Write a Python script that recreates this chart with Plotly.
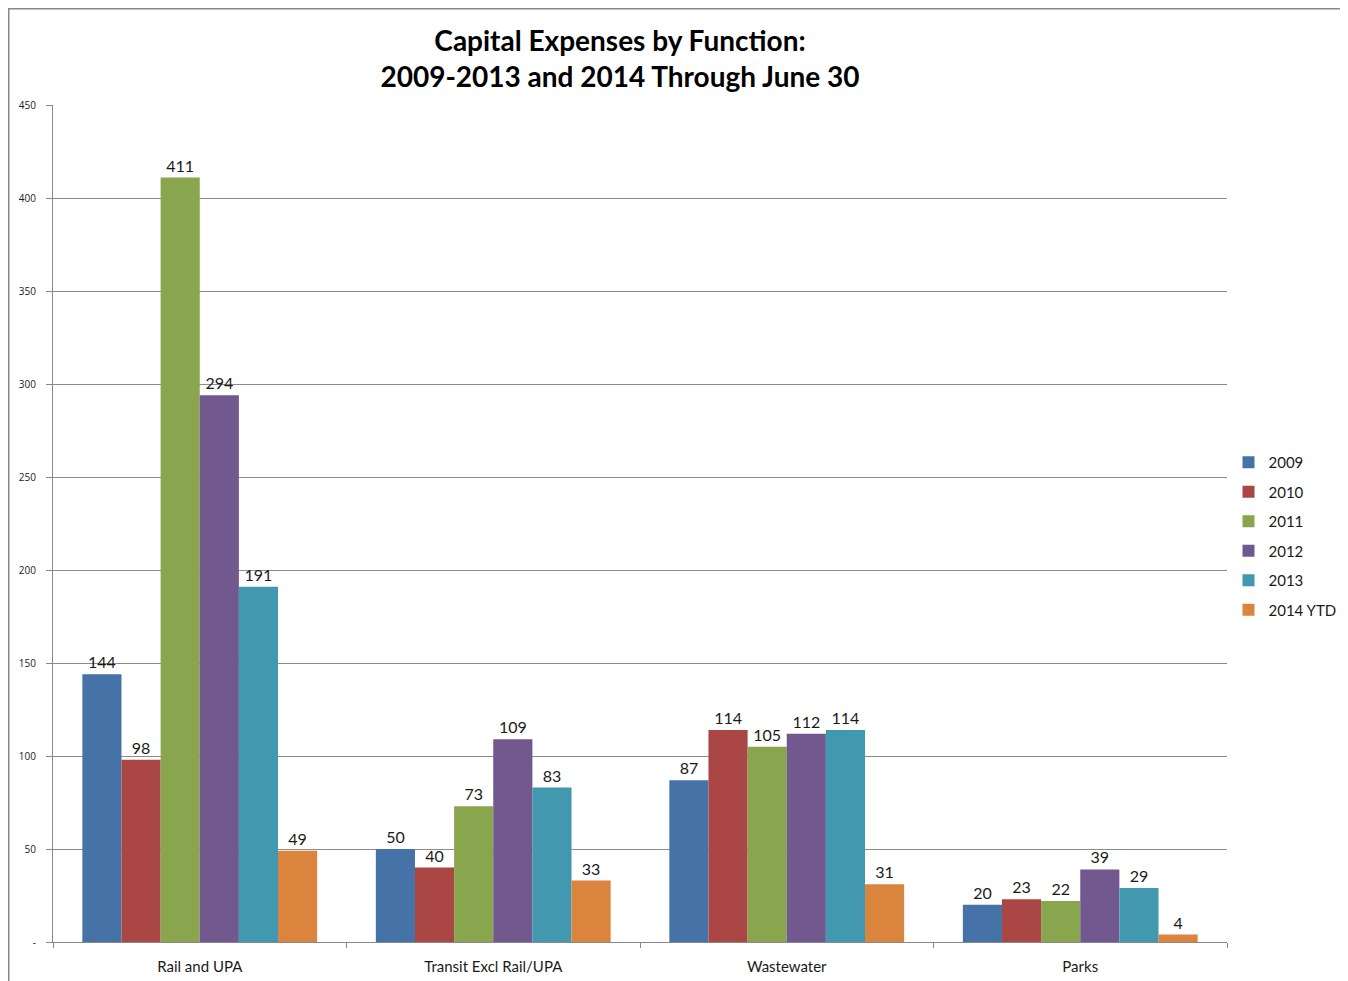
import plotly.graph_objects as go

categories = ["Rail and UPA", "Transit Excl Rail/UPA", "Wastewater", "Parks"]
series_names = ["2009", "2010", "2011", "2012", "2013", "2014 YTD"]
v2009 = [144, 50, 87, 20]
v2010 = [98, 40, 114, 23]
v2011 = [411, 73, 105, 22]
v2012 = [294, 109, 112, 39]
v2013 = [191, 83, 114, 29]
v2014 = [49, 33, 31, 4]
series_values = [v2009, v2010, v2011, v2012, v2013, v2014]
colors = ["#4572A7", "#AA4643", "#89A54E", "#71588F", "#4198AF", "#DB843D"]
ytickvals = [0, 50, 100, 150, 200, 250, 300, 350, 400, 450]
yticktext = ["-", "50", "100", "150", "200", "250", "300", "350", "400", "450"]

# page has an 8px body margin, so the figure is drawn offset by 8px
OFF = 8
W, H = 1348 - OFF, 981 - OFF
L, R, T, B = 53 - OFF, 1227 - OFF, 105 - OFF, 942 - OFF

FONT = "Lato, Open Sans, sans-serif"

fig = go.Figure()
for name, vals, c in zip(series_names, series_values, colors):
    fig.add_trace(go.Bar(
        x=categories, y=vals, name=name, legendgroup=name,
        marker=dict(color=c, line=dict(width=0)),
        text=[str(v) for v in vals], textposition="outside", cliponaxis=False,
        textfont=dict(family=FONT, size=16, color="#1a1a1a"),
    ))

def px(x):
    return (x - L) / (R - L)

def py(y):
    return (B - y) / (B - T)

fig.add_shape(type="line", xref="paper", yref="paper", x0=px(0), x1=px(W), y0=py(0.75), y1=py(0.75),
              line=dict(color="#888888", width=1.5))
fig.add_shape(type="line", xref="paper", yref="paper", x0=px(0.75), x1=px(0.75), y0=py(0), y1=py(H),
              line=dict(color="#888888", width=1.5))

fig.update_layout(
    width=W, height=H,
    margin=dict(l=L, r=W - R, t=T, b=H - B, autoexpand=False),
    paper_bgcolor="white", plot_bgcolor="white",
    barmode="group", bargap=0.2, bargroupgap=0,
    title=dict(text="<b>Capital Expenses by Function:<br>2009-2013 and 2014 Through June 30</b>",
               x=(620 - OFF) / W, xanchor="center", xref="container",
               y=1 - (51 - OFF) / H, yanchor="middle", yref="container",
               font=dict(family=FONT, size=28, color="#000000")),
    legend=dict(xref="container", yref="container",
                x=(R + 1.5) / W, xanchor="left",
                y=1 - (446 - OFF) / H, yanchor="top",
                font=dict(family=FONT, size=15, color="#1a1a1a"),
                itemwidth=30, tracegroupgap=7, bgcolor="rgba(0,0,0,0)"),
    xaxis=dict(showline=True, linecolor="#888888", linewidth=1, ticks="outside", tickson="boundaries",
               ticklen=5, tickcolor="#888888", ticklabelstandoff=11, automargin=False,
               tickfont=dict(family=FONT, size=15, color="#1a1a1a")),
    yaxis=dict(range=[0, 450], tickvals=ytickvals, ticktext=yticktext, showgrid=True,
               gridcolor="#8c8c8c", gridwidth=1, showline=True, linecolor="#888888", linewidth=1,
               ticks="outside", ticklen=6, tickcolor="#888888", zeroline=False, ticklabelstandoff=8,
               automargin=False,
               tickfont=dict(family="Open Sans, sans-serif", size=10, color="#1a1a1a")),
    font=dict(family=FONT),
)

fig.write_html("out.html")
